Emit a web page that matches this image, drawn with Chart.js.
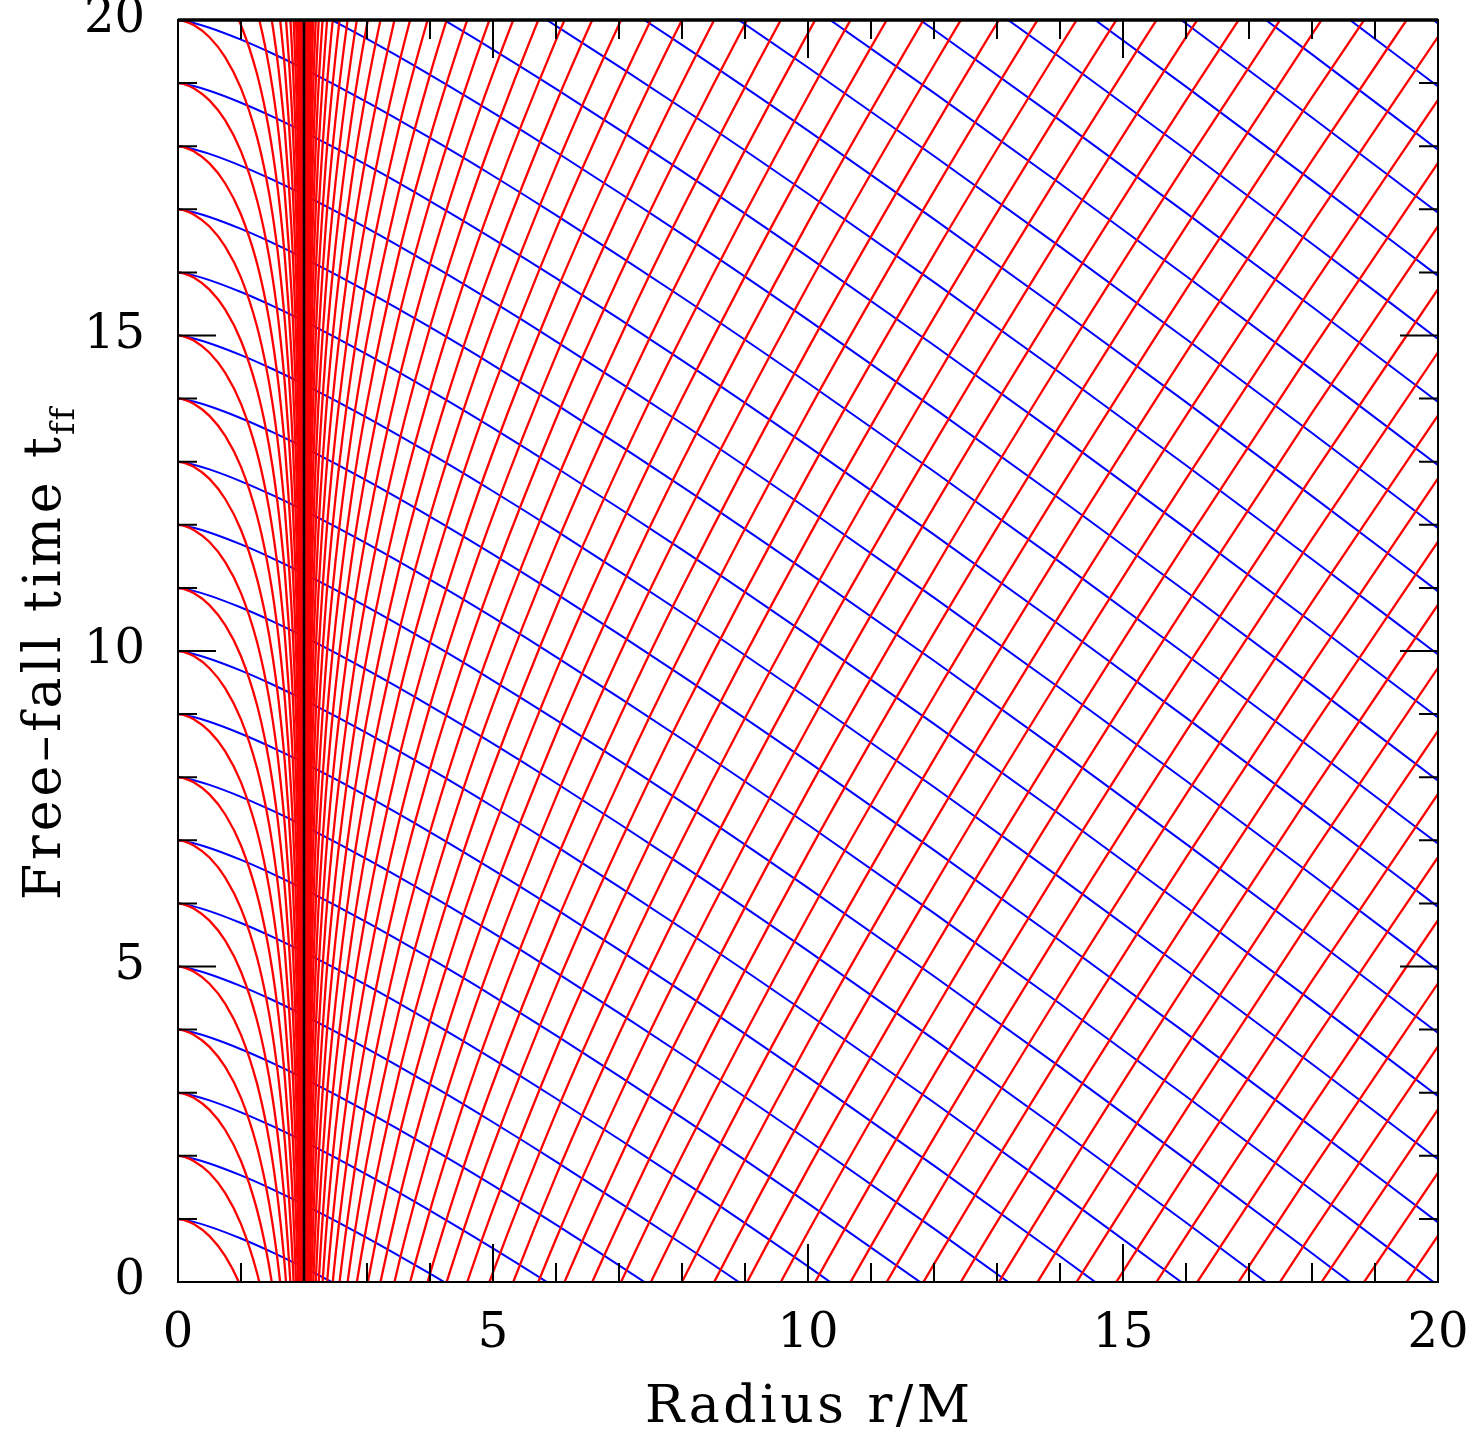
<!DOCTYPE html>
<html>
<head>
<meta charset="utf-8">
<script src="https://cdn.jsdelivr.net/npm/chart.js@4.4.1/dist/chart.umd.min.js"></script>
<style>
  html, body { margin: 0; padding: 0; background: #fff; }
  #wrap { width: 1477px; height: 1435px; }
</style>
</head>
<body>
<div id="wrap"><canvas id="chart" width="1477" height="1435"></canvas></div>
<script>
// ingoing rays (blue): shape, r vs drop in t from where it leaves r=0
const blueR    = [0, 0.1, 0.25, 0.5, 1, 1.5, 2, 3, 4, 5, 6, 8, 10, 12, 14, 16, 18, 20];
const blueDrop = [0, 0.013, 0.047, 0.122, 0.311, 0.531, 0.773, 1.300, 1.869, 2.468, 3.092, 4.394, 5.753, 7.155, 8.591, 10.056, 11.545, 13.055];
// times at which the blue rays reach r = 0
const blueStarts = [1, 2, 3, 4, 5, 6, 7, 8, 9, 10, 11, 12, 13, 14, 15, 16, 17, 18, 19, 20,
  21, 22, 23, 24, 25, 26, 27, 28, 29, 30, 31, 32, 33];

// red rays inside r=2: shape relative to the time they hit r = 0
const innerR  = [0, 0.05, 0.1, 0.25, 0.5, 0.75, 1, 1.25, 1.4, 1.5, 1.6, 1.7, 1.8, 1.85, 1.9, 1.95, 1.98, 1.99, 1.995, 1.999, 1.9999, 1.99999, 1.999999];
const innerDt = [0, -0.006, -0.018, -0.081, -0.273, -0.591, -1.083, -1.841, -2.501, -3.076, -3.816, -4.814, -6.284, -7.360, -8.906, -11.603, -15.223, -17.981, -20.744, -27.18, -36.39, -45.6, -54.8];
const innerStarts = [1, 2, 3, 4, 5, 6, 7, 8, 9, 10, 11, 12, 13, 14, 15, 16, 17, 18, 19, 20,
  21, 22, 23, 24, 25, 26, 27, 28, 29, 30, 31, 32, 33, 34, 35, 36, 37, 38, 39, 40,
  41, 42, 43, 44, 45];

// red rays outside r=2
const outerR  = [2.000001, 2.00001, 2.0001, 2.001, 2.005, 2.01, 2.02, 2.05, 2.1, 2.2, 2.35, 2.5, 2.75, 3, 3.5, 4, 4.5, 5, 6, 7, 8, 10, 12, 14, 16, 18, 20];
const outerDt = [-54.8, -45.6, -36.39, -27.17, -20.728, -17.955, -15.161, -11.454, -8.605, -5.684, -3.223, -1.575, 0.413, 1.928, 4.270, 6.131, 7.727, 9.154, 11.681, 13.930, 16.0, 19.792, 23.283, 26.576, 29.727, 32.773, 35.734];
const outerShifts = [-35, -34, -33, -32, -31, -30, -29, -28, -27, -26, -25, -24, -23, -22, -21,
  -20, -19, -18, -17, -16, -15, -14, -13, -12, -11, -10, -9, -8, -7, -6, -5, -4, -3, -2, -1,
  0, 1, 2, 3, 4, 5, 6, 7, 8, 9, 10, 11, 12, 13, 14, 15, 16, 17, 18, 19, 20,
  21, 22, 23, 24, 25, 26, 27, 28, 29, 30, 31, 32, 33, 34, 35, 36, 37, 38, 39, 40,
  41, 42, 43, 44, 45];

const horizonR = [2, 2];
const horizonT = [0, 20];

const RED = '#ff0000', BLUE = '#0000ff';
const datasets = [];

blueStarts.forEach(t0 => {
  datasets.push({
    data: blueR.map((r, i) => ({ x: r, y: t0 - blueDrop[i] })),
    borderColor: BLUE, borderWidth: 2, order: 3, clip: 0
  });
});
innerStarts.forEach(t0 => {
  datasets.push({
    data: innerR.map((r, i) => ({ x: r, y: t0 + innerDt[i] })),
    borderColor: RED, borderWidth: 2.3, order: 2, clip: 0
  });
});
outerShifts.forEach(n => {
  datasets.push({
    data: outerR.map((r, i) => ({ x: r, y: n + outerDt[i] })),
    borderColor: RED, borderWidth: 2.3, order: 2, clip: 0
  });
});
datasets.push({
  data: horizonR.map((r, i) => ({ x: r, y: horizonT[i] })),
  borderColor: '#000', borderWidth: 2.5, order: 1, clip: 0, cubicInterpolationMode: 'default', tension: 0
});

// frame, inward ticks on all sides and the axis titles
const frame = {
  id: 'frame',
  afterDraw(chart) {
    const { ctx, chartArea: a, scales: { x, y } } = chart;
    ctx.save();
    ctx.strokeStyle = '#000';
    ctx.lineWidth = 2;
    ctx.strokeRect(a.left, a.top, a.right - a.left, a.bottom - a.top);
    ctx.lineWidth = 3.5;
    ctx.beginPath();
    ctx.moveTo(a.left, a.top); ctx.lineTo(a.right, a.top);
    ctx.stroke();
    ctx.lineWidth = 2;
    ctx.beginPath();
    for (let v = 0; v <= 20; v++) {
      const len = v % 5 === 0 ? 38 : 19;
      const px = x.getPixelForValue(v);
      ctx.moveTo(px, a.bottom); ctx.lineTo(px, a.bottom - len);
      ctx.moveTo(px, a.top); ctx.lineTo(px, a.top + len);
      const py = y.getPixelForValue(v);
      ctx.moveTo(a.left, py); ctx.lineTo(a.left + len, py);
      ctx.moveTo(a.right, py); ctx.lineTo(a.right - len, py);
    }
    ctx.stroke();

    ctx.fillStyle = '#000';
    ctx.textBaseline = 'alphabetic';
    // x title
    ctx.font = '52px "DejaVu Serif"';
    const xt = 'Radius r/M';
    ctx.letterSpacing = '0px';
    let w = ctx.measureText(xt).width;
    ctx.letterSpacing = ((325 - w) / (xt.length - 1)).toFixed(2) + 'px';
    ctx.textAlign = 'left';
    ctx.fillText(xt, 645, 1422);

    // y title with subscript
    ctx.translate(60, 900);
    ctx.rotate(-Math.PI / 2);
    const yt = 'Free\u2013fall time t';
    ctx.letterSpacing = '0px';
    w = ctx.measureText(yt).width;
    const sp = (463 - w) / (yt.length - 1);
    ctx.letterSpacing = sp.toFixed(2) + 'px';
    ctx.fillText(yt, 0, 0);
    ctx.font = '34px "DejaVu Serif"';
    ctx.letterSpacing = '2px';
    ctx.fillText('ff', 465, 14);
    ctx.restore();
  }
};

new Chart(document.getElementById('chart'), {
  type: 'line',
  data: { datasets },
  options: {
    responsive: false,
    animation: false,
    events: [],
    devicePixelRatio: 1,
    layout: { padding: { top: 20, right: 39, left: 0, bottom: 0 } },
    plugins: { legend: { display: false }, tooltip: { enabled: false } },
    elements: {
      point: { radius: 0 },
      line: { cubicInterpolationMode: 'monotone', borderCapStyle: 'round', fill: false }
    },
    scales: {
      x: {
        type: 'linear', min: 0, max: 20,
        grid: { display: false, drawTicks: false },
        border: { display: false },
        ticks: { stepSize: 5, padding: 24, color: '#000', maxRotation: 0, autoSkip: false,
                 font: { family: 'DejaVu Serif', size: 48 } },
        afterFit(s) { s.height = 153; s.paddingLeft = 0; s.paddingRight = 0; }
      },
      y: {
        type: 'linear', min: 0, max: 20,
        grid: { display: false, drawTicks: false },
        border: { display: false },
        ticks: { stepSize: 5, padding: 33, color: '#000', autoSkip: false,
                 font: { family: 'DejaVu Serif', size: 48 } },
        afterFit(s) { s.width = 178; s.paddingTop = 0; s.paddingBottom = 0; }
      }
    }
  },
  plugins: [frame]
});
</script>
</body>
</html>
